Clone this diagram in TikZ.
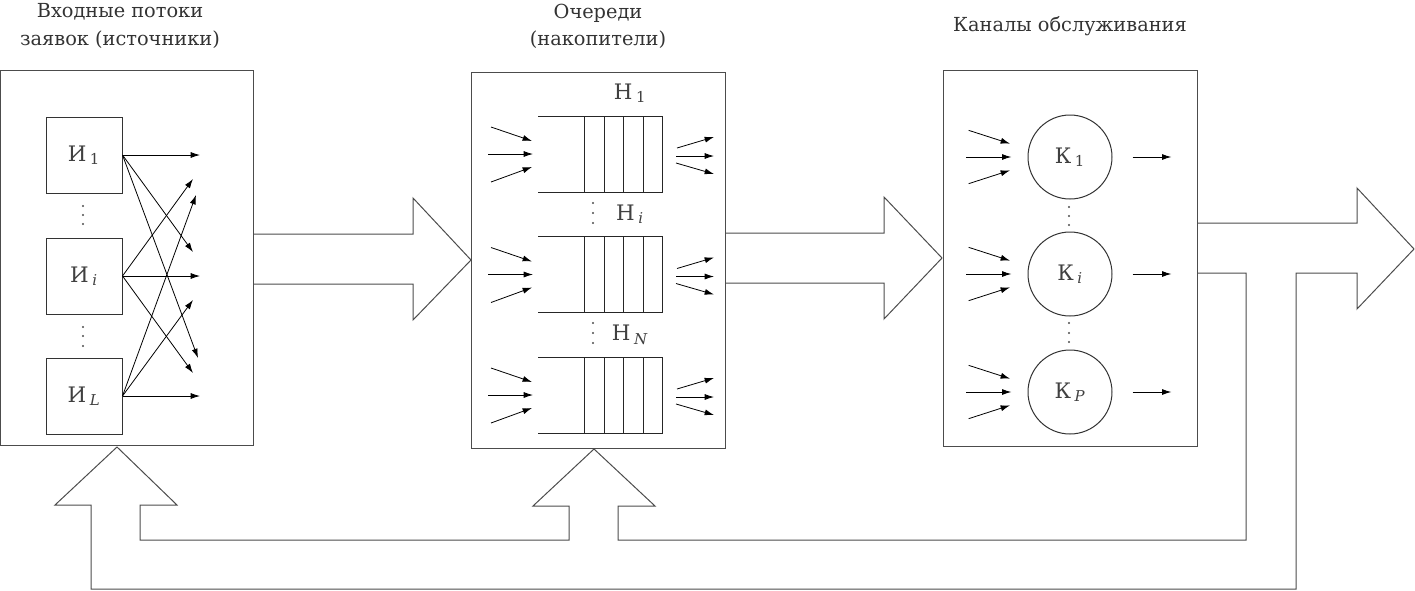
\documentclass[tikz,border=0pt]{standalone}
\usepackage{fontspec}
\setmainfont{DejaVu Serif}
\usetikzlibrary{arrows.meta}

\begin{document}
\begin{tikzpicture}[x=0.75pt, y=-0.75pt, line width=0.75pt,
  font=\fontsize{16}{20}\selectfont,
  frame/.style={draw=black!70, inner sep=0pt},
  srcbox/.style={draw=black!80, minimum size=57pt, inner sep=0pt, text=black!75},
  chan/.style={draw=black!80, circle, minimum size=63pt, inner sep=0pt, text=black!75},
  qlabel/.style={text=black!75, inner sep=0pt},
  title/.style={align=center, text=black!80, inner sep=0pt, font=\fontsize{14.5}{20.5}\selectfont},
  flow/.style={-{Latex[length=7pt,width=4.5pt]}, line width=0.6pt},
  bigarrow/.style={draw=black!70, line join=miter}]
  \useasboundingbox (0,0) rectangle (1415,590);

  % titles
  \node[title] (tsrc) at (120,26) {Входные потоки\\заявок (источники)};
  \node[title] (tque) at (598,26) {Очереди\\(накопители)};
  \node[title] (tsrv) at (1070,26) {Каналы обслуживания};

  % frames
  \node[frame, minimum width=189.4pt, minimum height=281.25pt] (src) at (126.75,257.5) {};
  \node[frame, minimum width=190.5pt, minimum height=282pt] (que) at (598,260) {};
  \node[frame, minimum width=190.5pt, minimum height=282pt] (srv) at (1070,258) {};

  % sources
  \node[srcbox] (s1) at (84,155) {И\,\textsubscript{1}};
  \node[srcbox] (si) at (84,276) {И\,\textsubscript{\textit{i}}};
  \node[srcbox] (sL) at (84,396) {И\,\textsubscript{\textit{L}}};
  \foreach \y in {206,215,224,327,336,346}
    \fill[black!70] (83,\y) circle (0.9pt);

  \coordinate (a1) at (200,155);
  \coordinate (a2) at (193,179);
  \coordinate (a3) at (196,195);
  \coordinate (a4) at (193,252);
  \coordinate (a5) at (200,276);
  \coordinate (a6) at (193,300);
  \coordinate (a7) at (198,358);
  \coordinate (a8) at (193,373);
  \coordinate (a9) at (200,396);
  \foreach \t in {a1,a4,a7} \draw[flow] (s1.east) -- (\t);
  \foreach \t in {a2,a5,a8} \draw[flow] (si.east) -- (\t);
  \foreach \t in {a3,a6,a9} \draw[flow] (sL.east) -- (\t);

  % queues
  \foreach \y in {154,274.5,395} {
    \draw[black!85] (538,\y-38) -- (662,\y-38) -- (662,\y+38) -- (538,\y+38);
    \foreach \cx in {584,604,623,643}
      \draw[black!85] (\cx,\y-38) -- (\cx,\y+38);
    \draw[flow] (491,\y-27) -- (532,\y-13);
    \draw[flow] (488,\y) -- (533,\y);
    \draw[flow] (491,\y+28) -- (532,\y+13);
    \draw[flow] (677,\y-6) -- (714,\y-17);
    \draw[flow] (676,\y+2) -- (714,\y+2);
    \draw[flow] (676,\y+9) -- (714,\y+20);
  }
  \node[qlabel] (h1) at (630,93) {Н\,\textsubscript{1}};
  \node[qlabel] (hi) at (630,214) {Н\,\textsubscript{\textit{i}}};
  \node[qlabel] (hN) at (630,335) {Н\,\textsubscript{\textit{N}}};
  \foreach \y in {203,213,223,323,333,343}
    \fill[black!70] (593,\y) circle (0.9pt);

  % service channels
  \node[chan] (k1) at (1070,157) {К\,\textsubscript{1}};
  \node[chan] (ki) at (1070,274) {К\,\textsubscript{\textit{i}}};
  \node[chan] (kP) at (1070,392) {К\,\textsubscript{\textit{P}}};
  \foreach \y in {207,216,225,323,333,342}
    \fill[black!70] (1069,\y) circle (0.9pt);
  \foreach \k in {k1,ki,kP} {
    \draw[flow] ([xshift=-76pt,yshift=20pt]\k.center) -- ([xshift=-45pt,yshift=10pt]\k.center);
    \draw[flow] ([xshift=-78pt]\k.center) -- ([xshift=-44pt]\k.center);
    \draw[flow] ([xshift=-76pt,yshift=-20pt]\k.center) -- ([xshift=-45pt,yshift=-10pt]\k.center);
    \draw[flow] ([xshift=47pt]\k.center) -- ([xshift=76pt]\k.center);
  }

  % hollow flow arrows
  \draw[bigarrow] (253,234) -- (413,234) -- (413,198) -- (471,260)
    -- (413,320) -- (413,284) -- (253,284);
  \draw[bigarrow] (725,233) -- (884,233) -- (884,197) -- (942,258)
    -- (884,319) -- (884,283) -- (725,283);
  \draw[bigarrow] (1197,223) -- (1357,223) -- (1357,188) -- (1414,249)
    -- (1357,309) -- (1357,273) -- (1296,273) -- (1296,589) -- (91,589)
    -- (91,505) -- (55,505) -- (117,447) -- (177,505) -- (140,505)
    -- (140,540) -- (569,540) -- (569,506) -- (533,506) -- (594,449)
    -- (655,506) -- (618,506) -- (618,540) -- (1246,540) -- (1246,273)
    -- (1197,273);
\end{tikzpicture}
\end{document}
